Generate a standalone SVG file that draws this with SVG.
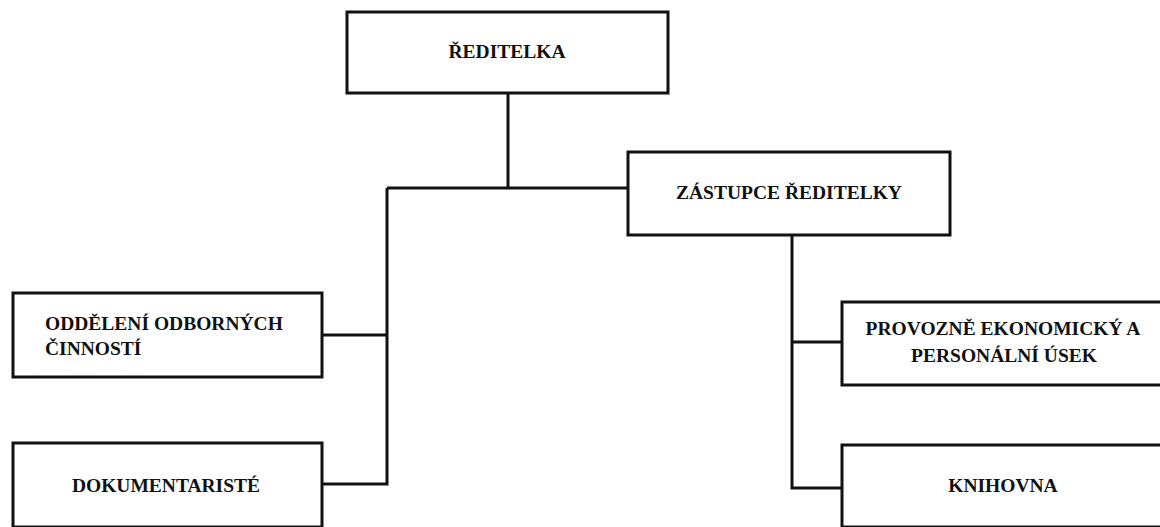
<svg xmlns="http://www.w3.org/2000/svg" width="1160" height="527" viewBox="0 0 1160 527">
<style>
.box{fill:#fff;stroke:#111;stroke-width:3}
.conn{fill:none;stroke:#111;stroke-width:3}
.lbl{font-weight:bold;font-size:19.5px;fill:#111}
.c{text-anchor:middle}
</style>
<rect width="1160" height="527" fill="#fff"/>
<g id="connectors">
<path class="conn" d="M508,93 V188"/>
<path class="conn" d="M387,188 H628"/>
<path class="conn" d="M387,188 V484 H322"/>
<path class="conn" d="M387,335 H322"/>
<path class="conn" d="M792,235 V488 H842"/>
<path class="conn" d="M792,342 H842"/>
</g>
<g font-family="'Liberation Serif', 'Times New Roman', serif">
<g id="reditelka">
<rect class="box" x="347" y="12" width="321" height="81"/>
<text class="lbl c" x="507" y="58">ŘEDITELKA</text>
</g>
<g id="zastupce">
<rect class="box" x="628" y="152" width="322" height="83"/>
<text class="lbl c" x="789" y="199">ZÁSTUPCE ŘEDITELKY</text>
</g>
<g id="oddeleni">
<rect class="box" x="13" y="293" width="309" height="84"/>
<text class="lbl" x="45" y="330">ODDĚLENÍ ODBORNÝCH</text>
<text class="lbl" x="45" y="355">ČINNOSTÍ</text>
</g>
<g id="dokumentariste">
<rect class="box" x="13" y="443" width="309" height="84"/>
<text class="lbl c" x="166" y="492">DOKUMENTARISTÉ</text>
</g>
<g id="provozne">
<rect class="box" x="842" y="302" width="330" height="83"/>
<text class="lbl c" x="1003" y="335">PROVOZNĚ EKONOMICKÝ A</text>
<text class="lbl c" x="1004" y="362">PERSONÁLNÍ ÚSEK</text>
</g>
<g id="knihovna">
<rect class="box" x="842" y="445" width="330" height="82"/>
<text class="lbl c" x="1003" y="492">KNIHOVNA</text>
</g>
</g>
</svg>
